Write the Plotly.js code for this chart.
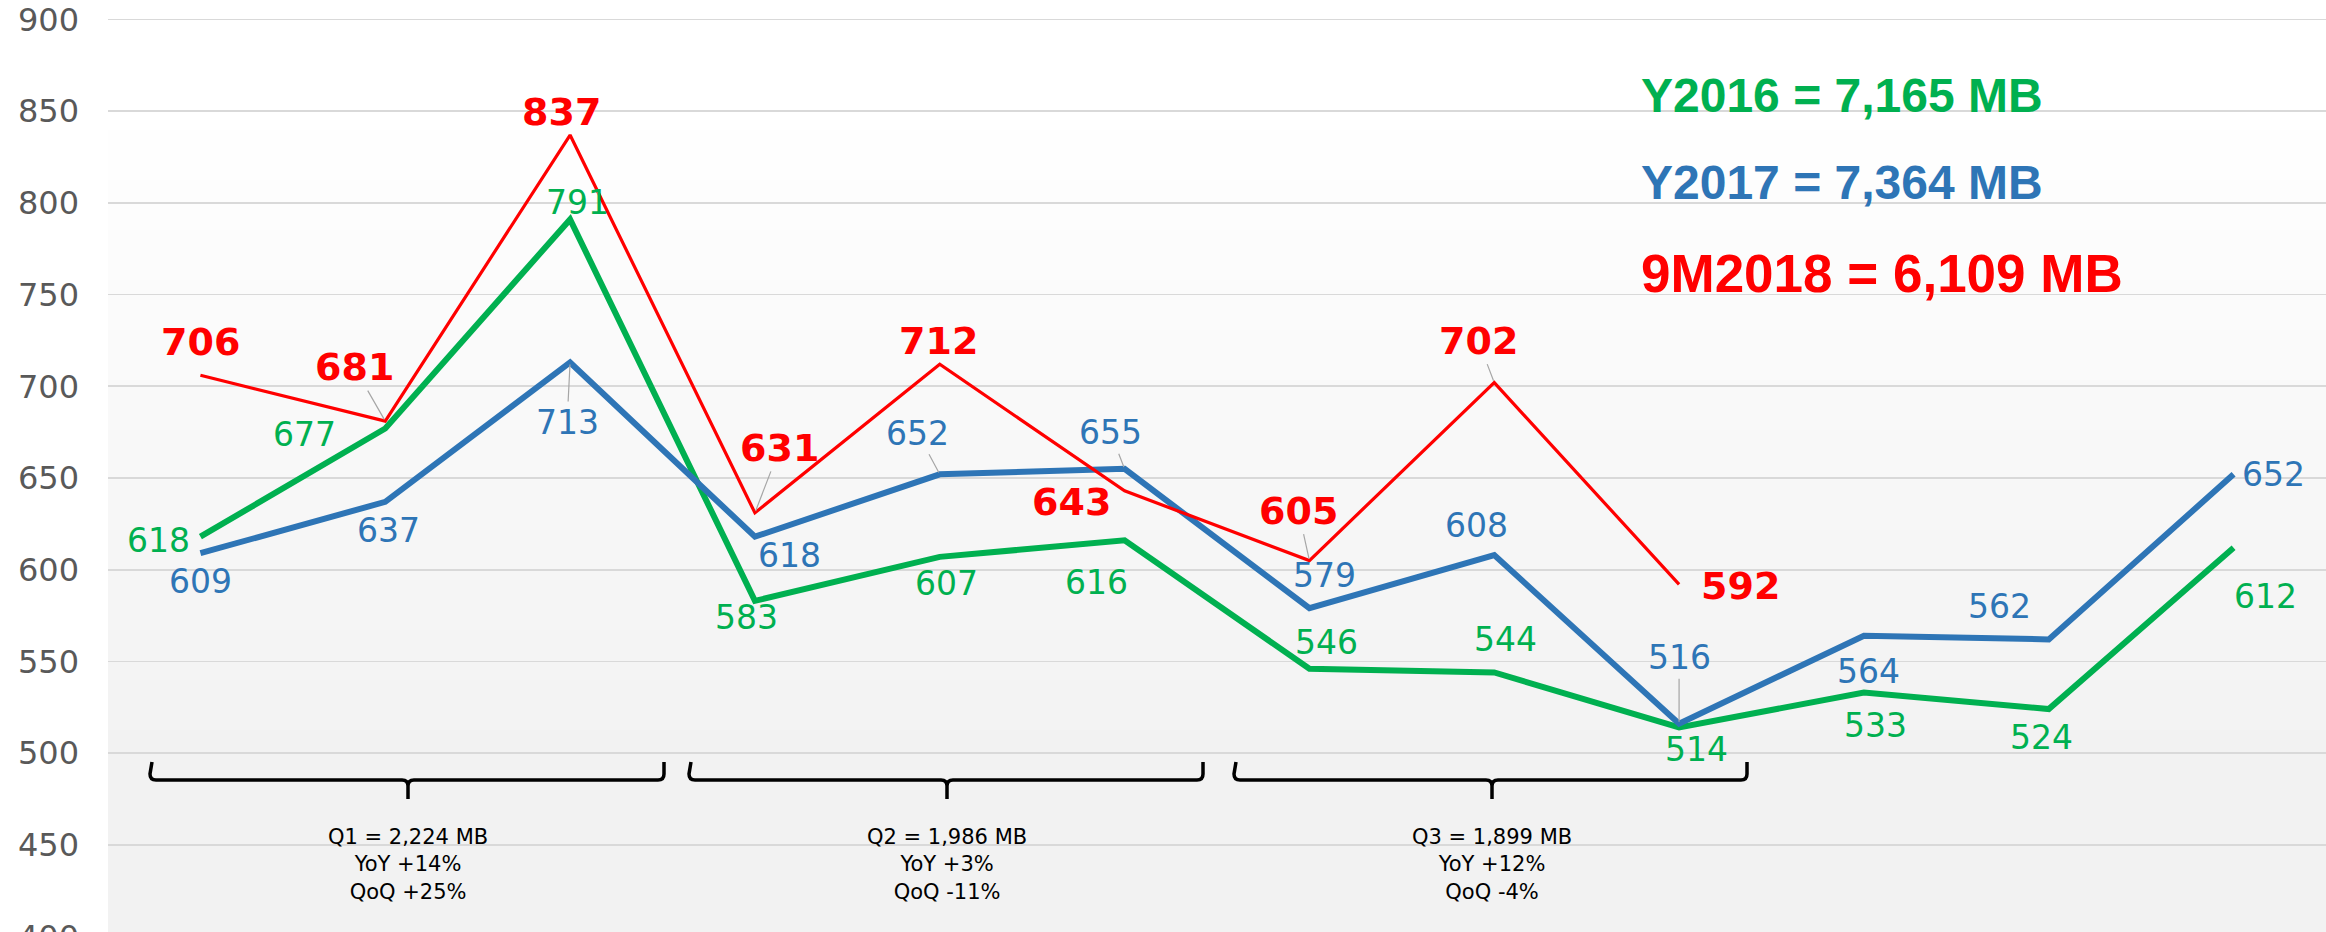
<!DOCTYPE html>
<html>
<head>
<meta charset="utf-8">
<script src="https://cdn.plot.ly/plotly-3.0.1.min.js"></script>
<style>
  html, body { margin: 0; padding: 0; background: #ffffff; }
  #wrap { width: 2326px; height: 932px; overflow: hidden; position: relative; }
  #chart { width: 2326px; height: 960px; }
</style>
</head>
<body>
<div id="wrap"><div id="chart"></div></div>
<script>
// ---- data ----
const months = ['Jan','Feb','Mar','Apr','May','Jun','Jul','Aug','Sep','Oct','Nov','Dec'];
const y2016 = [618, 677, 791, 583, 607, 616, 546, 544, 514, 533, 524, 612];
const y2017 = [609, 637, 713, 618, 652, 655, 579, 608, 516, 564, 562, 652];
const y2018 = [706, 681, 837, 631, 712, 643, 605, 702, 592];
const yTickVals = [400, 450, 500, 550, 600, 650, 700, 750, 800, 850, 900];
const totalTexts = ['Y2016 = 7,165 MB', 'Y2017 = 7,364 MB', '9M2018 = 6,109 MB'];
const quarterTexts = [
  'Q1 = 2,224 MB<br>YoY +14%<br>QoQ +25%',
  'Q2 = 1,986 MB<br>YoY +3%<br>QoQ -11%',
  'Q3 = 1,899 MB<br>YoY +12%<br>QoQ -4%'
];

// ---- styling / placement ----
const GREEN = '#00B050', BLUE = '#2E75B6', RED = '#FF0000';
const W = 2326, H = 960, ML = 108;
const PW = W - ML;
const px2x = p => (p - ML) / PW;        // pixel -> paper x
const py2y = p => 1 - p / H;            // pixel -> paper y

// label offsets [dx, dy] in pixels and leader flags
const off2016 = [[-42,4],[-81,6],[7,-17],[-8,17],[7,27],[-28,42],[17,-26],[11,-33],[17,22],[12,33],[-7,28],[32,49]];
const off2017 = [[0,28],[3,29],[-3,60],[35,19],[-22,-41],[-14,-36],[15,-33],[-18,-30],[0,-66],[5,36],[-49,-33],[40,0]];
const off2018 = [[0,-33],[-31,-54],[-9,-23],[25,-65],[-1,-23],[-53,11],[-11,-50],[-16,-42],[61,2]];
const lead2016 = [0,0,0,0,0,0,0,0,0,0,0,0];
const lead2017 = [0,0,1,0,1,1,0,0,1,0,0,0];
const lead2018 = [0,1,0,1,0,0,1,1,0];

function labels(vals, offs, leads, font) {
  return vals.map((v, i) => ({
    x: months[i], y: v, xref: 'x', yref: 'y',
    text: String(v), showarrow: true,
    ax: offs[i][0], ay: offs[i][1],
    arrowhead: 0, arrowwidth: 1.2, standoff: 2,
    arrowcolor: leads[i] ? '#a6a6a6' : 'rgba(0,0,0,0)',
    font: font
  }));
}

const fLabel = (c) => ({family: 'DejaVu Sans', size: 33, color: c});
const fRed = {family: 'DejaVu Sans', size: 38, color: RED, weight: 'bold'};

let annotations = [];
annotations = annotations.concat(labels(y2016, off2016, lead2016, fLabel(GREEN)));
annotations = annotations.concat(labels(y2017, off2017, lead2017, fLabel(BLUE)));
annotations = annotations.concat(labels(y2018, off2018, lead2018, fRed));

// totals
const totalPos = [[1639, 95.5, 48, GREEN], [1639, 182.5, 48, BLUE], [1639, 273, 53, RED]];
totalTexts.forEach((t, i) => {
  const p = totalPos[i];
  annotations.push({
    xref: 'paper', yref: 'paper', x: px2x(p[0]), y: py2y(p[1]),
    xanchor: 'left', yanchor: 'middle', showarrow: false, text: t,
    font: {family: 'Liberation Sans', size: p[2], color: p[3], weight: 'bold'}
  });
});

// quarter brackets + texts
const brackets = [[150, 408, 664], [689, 947, 1203], [1234, 1492, 1747]];
const yTop = 762, yMid = 780, yBot = 799, r = 6;
const shapes = [];

// gradient background bands for the plot area
const g0 = 100, g1 = 760, nb = 66;
for (let k = 0; k < nb; k++) {
  const a = g0 + (g1 - g0) * k / nb, b = g0 + (g1 - g0) * (k + 1) / nb;
  const c = Math.round(255 - 13 * (k + 0.5) / nb);
  shapes.push({type: 'rect', xref: 'paper', yref: 'paper', layer: 'below',
    x0: 0, x1: 1, y0: py2y(b), y1: py2y(a), line: {width: 0},
    fillcolor: `rgb(${c},${c},${c})`});
}
shapes.push({type: 'rect', xref: 'paper', yref: 'paper', layer: 'below',
  x0: 0, x1: 1, y0: 0, y1: py2y(g1), line: {width: 0}, fillcolor: '#f2f2f2'});

brackets.forEach((b, i) => {
  const [L, T, R] = b;
  const P = (x, y) => `${px2x(x).toFixed(6)},${py2y(y).toFixed(6)}`;
  const path = `M ${P(L + 2, yTop)} L ${P(L, yMid - r)} Q ${P(L, yMid)} ${P(L + r, yMid)} ` +
    `L ${P(T - r, yMid)} Q ${P(T, yMid)} ${P(T, yMid + r)} L ${P(T, yBot)} ` +
    `M ${P(T, yMid + r)} Q ${P(T, yMid)} ${P(T + r, yMid)} ` +
    `L ${P(R - r, yMid)} Q ${P(R, yMid)} ${P(R, yMid - r)} L ${P(R, yTop)}`;
  shapes.push({type: 'path', xref: 'paper', yref: 'paper', path: path,
    line: {color: '#000000', width: 3.5}});
  annotations.push({
    xref: 'paper', yref: 'paper', x: px2x(T), y: py2y(864),
    xanchor: 'center', yanchor: 'middle', showarrow: false, align: 'center',
    text: quarterTexts[i],
    font: {family: 'DejaVu Sans', size: 21, color: '#000000'}
  });
});

const traces = [
  {x: months, y: y2016, type: 'scatter', mode: 'lines', name: '2016',
   line: {color: GREEN, width: 6}, hoverinfo: 'skip'},
  {x: months, y: y2017, type: 'scatter', mode: 'lines', name: '2017',
   line: {color: BLUE, width: 6}, hoverinfo: 'skip'},
  {x: months.slice(0, y2018.length), y: y2018, type: 'scatter', mode: 'lines', name: '9M2018',
   line: {color: RED, width: 3.2}, hoverinfo: 'skip'}
];

const yMax = 900 + 19.5 / 1.834;
const yMin = yMax - H / 1.834;

const layout = {
  width: W, height: H,
  margin: {l: ML, r: 0, t: 0, b: 0, pad: 0},
  paper_bgcolor: '#ffffff', plot_bgcolor: '#ffffff',
  showlegend: false,
  xaxis: {type: 'category', categoryarray: months, range: [-0.5, 11.5],
    showticklabels: false, showgrid: false, zeroline: false, showline: false, ticks: ''},
  yaxis: {range: [yMin, yMax], tickvals: yTickVals, ticks: '', ticklabelstandoff: 28,
    showgrid: true, gridcolor: '#d9d9d9', gridwidth: 1.6, zeroline: false, showline: false,
    tickfont: {family: 'DejaVu Sans', size: 32, color: '#595959'}},
  shapes: shapes,
  annotations: annotations
};

Plotly.newPlot('chart', traces, layout, {staticPlot: true, displayModeBar: false});
</script>
</body>
</html>
